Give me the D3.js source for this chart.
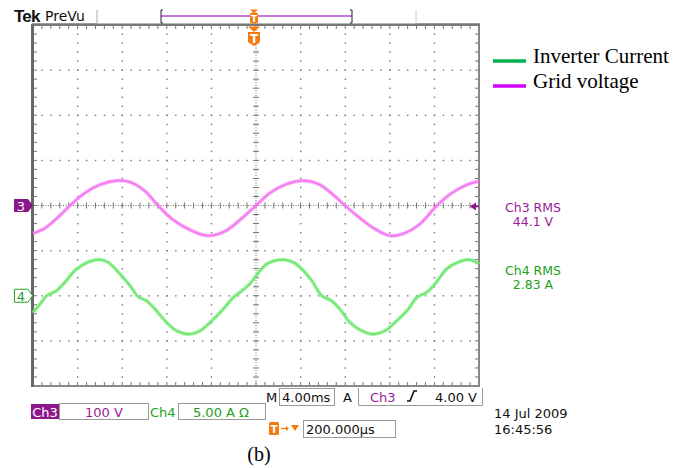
<!DOCTYPE html>
<html><head><meta charset="utf-8">
<script src="https://cdn.jsdelivr.net/npm/d3@7"></script>
<style>body{margin:0;background:#fff}svg{display:block}</style>
</head><body>
<svg id="c" width="682" height="468"></svg>
<script>
// ---- data ----
const timeV = [-20.0,-18.92,-17.76,-16.68,-15.34,-13.99,-12.47,-11.30,-9.96,-8.79,-7.53,-5.92,-4.31,-2.78,-1.44,0,1.26,2.60,4.22,5.56,6.82,7.98,9.33,10.67,12.02,13.36,14.71,16.23,17.58,18.92,20.0];
const gridVoltage = [-62,-50,-26,0,28,46,55,52,32,0,-30,-54,-67,-57,-32,0,28,46,55,48,26,0,-28,-52,-67,-61,-41,0,28,46,54];
const timeI = [-20.0,-19.37,-18.77,-17.88,-17.28,-16.08,-14.89,-13.99,-13.25,-12.20,-11.30,-10.56,-9.81,-9.06,-8.01,-7.11,-5.92,-5.02,-3.97,-2.93,-2.04,-1.44,-0.54,0.36,0.96,2.45,3.35,4.10,5.00,5.89,6.79,7.53,8.43,9.48,10.52,11.57,12.62,13.66,14.41,15.31,16.05,17.10,18.30,19.19,20.0];
const inverterCurrent = [-1.86,-0.92,0,0.56,1.30,2.97,3.81,4.0,3.70,2.41,1.11,-0.11,-0.56,-1.48,-2.97,-3.89,-4.26,-3.89,-2.78,-1.48,-0.19,0.37,1.33,2.78,3.52,4.0,3.70,2.97,1.67,0,-0.56,-1.48,-2.97,-3.89,-4.26,-3.89,-2.78,-1.48,-0.19,0.37,1.30,2.97,3.81,4.0,3.52];
const legendLabels = ["Inverter Current","Grid voltage"];
const rmsLabels = [["Ch3 RMS","44.1 V"],["Ch4 RMS","2.83 A"]];
const xDomain = [-20,20];       // ms, 4 ms/div
const vDomain = [-400,400];     // V, 100 V/div
const iDomain = [-10,30];       // A, 5 A/div, ground 2 div below centre

const svg = d3.select("#c");
const X0=33, X1=479, Y0=25, Y1=386;
const x = d3.scaleLinear().domain(xDomain).range([X0,X1]);
const yV = d3.scaleLinear().domain(vDomain).range([Y1,Y0]);
const yI = d3.scaleLinear().domain(iDomain).range([Y1,Y0]);
const GRID="#747474";
const sans="'DejaVu Sans', sans-serif";
const serif="'Liberation Serif','Times New Roman', serif";
const PURPLE="#9a1a9a", GREENT="#22a022", ORANGE="#f47a10";

svg.append("rect").attr("width",682).attr("height",468).attr("fill","#fff");

// ---- graticule ----
const g = svg.append("g");
const majX = d3.range(-20,20.01,4), majV = d3.range(-400,400.1,100);
const minX = d3.range(-20,20.01,0.8), minV = d3.range(-400,400.1,20);
majX.filter(t=>t!==0 && Math.abs(t)!==20).forEach(t=>{
  minV.forEach(v=>g.append("rect").attr("x",x(t)-0.6).attr("y",yV(v)-0.6).attr("width",1.4).attr("height",1.4).attr("fill",GRID));
});
majV.filter(v=>v!==0 && Math.abs(v)!==400).forEach(v=>{
  minX.forEach(t=>g.append("rect").attr("x",x(t)-0.6).attr("y",yV(v)-0.6).attr("width",1.4).attr("height",1.4).attr("fill",GRID));
});
g.append("line").attr("x1",X0).attr("x2",X1).attr("y1",yV(0)).attr("y2",yV(0)).attr("stroke",GRID).attr("stroke-width",1).attr("stroke-dasharray","1 1.5");
g.append("line").attr("x1",x(0)).attr("x2",x(0)).attr("y1",Y0).attr("y2",Y1).attr("stroke",GRID).attr("stroke-width",1).attr("stroke-dasharray","1 1.5");
minX.forEach(t=>g.append("line").attr("x1",x(t)).attr("x2",x(t)).attr("y1",yV(0)-3).attr("y2",yV(0)+3).attr("stroke",GRID).attr("stroke-width",1));
minV.forEach(v=>g.append("line").attr("x1",x(0)-3).attr("x2",x(0)+3).attr("y1",yV(v)).attr("y2",yV(v)).attr("stroke",GRID).attr("stroke-width",1));
minX.forEach(t=>{
  g.append("line").attr("x1",x(t)).attr("x2",x(t)).attr("y1",Y0).attr("y2",Y0+4).attr("stroke",GRID);
  g.append("line").attr("x1",x(t)).attr("x2",x(t)).attr("y1",Y1).attr("y2",Y1-4).attr("stroke",GRID);
});
minV.forEach(v=>{
  g.append("line").attr("x1",X0).attr("x2",X0+4).attr("y1",yV(v)).attr("y2",yV(v)).attr("stroke",GRID);
  g.append("line").attr("x1",X1).attr("x2",X1-4).attr("y1",yV(v)).attr("y2",yV(v)).attr("stroke",GRID);
});
g.append("rect").attr("x",X0).attr("y",Y0).attr("width",X1-X0).attr("height",Y1-Y0).attr("fill","none").attr("stroke","#888").attr("stroke-width",2);
g.append("line").attr("x1",X0-0.5).attr("x2",X0-0.5).attr("y1",Y0-1).attr("y2",Y1+1).attr("stroke","#666").attr("stroke-width",3);
g.append("line").attr("x1",X0-1).attr("x2",X1+1).attr("y1",Y0-0.5).attr("y2",Y0-0.5).attr("stroke","#777").attr("stroke-width",2.5);

// ---- traces ----
const lineV = d3.line().x((d,i)=>x(timeV[i])).y(d=>yV(d)).curve(d3.curveCatmullRom.alpha(0.5));
const lineI = d3.line().x((d,i)=>x(timeI[i])).y(d=>yI(d)).curve(d3.curveCatmullRom.alpha(0.5));
[[lineV(gridVoltage),"#f57cf2"],[lineI(inverterCurrent),"#74e874"]].forEach(([p,c])=>{
  svg.append("path").attr("d",p).attr("fill","none").attr("stroke",c).attr("stroke-width",4).attr("stroke-opacity",0.45);
  svg.append("path").attr("d",p).attr("fill","none").attr("stroke",c).attr("stroke-width",2.2);
});

// ---- channel markers ----
const cy3 = yV(0), cy4 = yI(0);
svg.append("path").attr("d",`M14,${cy3-6.5}H28L33,${cy3}L28,${cy3+6.5}H14Z`).attr("fill","#8c168c");
svg.append("text").attr("x",21).attr("y",cy3+5).attr("text-anchor","middle").attr("fill","#fff").attr("font-family",sans).attr("font-size",13).text("3");
svg.append("path").attr("d",`M14.5,${cy4-6.5}H28L32.5,${cy4}L28,${cy4+6.5}H14.5Z`).attr("fill","#fff").attr("stroke","#2aa02a").attr("stroke-width",1);
svg.append("text").attr("x",21).attr("y",cy4+5).attr("text-anchor","middle").attr("fill","#2aa02a").attr("font-family",sans).attr("font-size",13).text("4");
svg.append("path").attr("d",`M470,${cy3+1}L476,${cy3-3}V${cy3+5}Z`).attr("fill","#8c168c");
svg.append("line").attr("x1",476).attr("x2",479).attr("y1",cy3+1).attr("y2",cy3+1).attr("stroke","#8c168c").attr("stroke-width",1.5);

// ---- header ----
svg.append("text").attr("x",14).attr("y",22).attr("font-family","'Liberation Sans',Arial,sans-serif").attr("font-weight","bold").attr("font-size",17).attr("letter-spacing",-0.8).attr("fill","#111").text("Tek");
svg.append("text").attr("x",45).attr("y",21).attr("font-family",sans).attr("font-size",14).attr("fill","#111").text("PreVu");
svg.append("line").attr("x1",97).attr("x2",97).attr("y1",10).attr("y2",23.5).attr("stroke","#aaa");
svg.append("line").attr("x1",97).attr("x2",416).attr("y1",23.5).attr("y2",23.5).attr("stroke","#b8b8b8");
svg.append("line").attr("x1",416).attr("x2",416).attr("y1",10).attr("y2",23.5).attr("stroke","#c8c8c8");
svg.append("line").attr("x1",161).attr("x2",352).attr("y1",16).attr("y2",16).attr("stroke","#c878d8").attr("stroke-width",2);
svg.append("path").attr("d","M163,10H161V23H163").attr("fill","none").attr("stroke","#222").attr("stroke-width",1);
svg.append("path").attr("d","M350,10H352V23H350").attr("fill","none").attr("stroke","#222").attr("stroke-width",1);
const tx = x(0)-2;
svg.append("path").attr("d",`M${tx-4},9.5H${tx+4}L${tx},13Z`).attr("fill",ORANGE);
svg.append("rect").attr("x",tx-4).attr("y",12.5).attr("width",8).attr("height",11).attr("rx",2).attr("fill",ORANGE);
svg.append("text").attr("x",tx).attr("y",21.5).attr("text-anchor","middle").attr("font-family",sans).attr("font-size",9).attr("font-weight","bold").attr("fill","#fff").text("T");
svg.append("path").attr("d",`M${tx-6},26.5H${tx+6}L${tx},32Z`).attr("fill",ORANGE);
svg.append("path").attr("d",`M${tx-6},32H${tx+6}V42L${tx},46L${tx-6},42Z`).attr("fill",ORANGE);
svg.append("text").attr("x",tx).attr("y",43).attr("text-anchor","middle").attr("font-family",sans).attr("font-size",12).attr("font-weight","bold").attr("fill","#fff").text("T");

// ---- legend ----
const legCol = ["#00b050","#d400ff"];
legendLabels.forEach((l,i)=>{
  const yy = 61 + i*25;
  svg.append("line").attr("x1",493).attr("x2",526).attr("y1",yy).attr("y2",yy).attr("stroke",legCol[i]).attr("stroke-width",3.5);
  svg.append("text").attr("x",533).attr("y",yy+2).attr("font-family",serif).attr("font-size",21).attr("fill","#000").text(l);
});

// ---- RMS readouts ----
const rmsCol=[PURPLE,GREENT], rmsY=[212,275];
rmsLabels.forEach((r,i)=>{
  r.forEach((s,j)=>svg.append("text").attr("x",533).attr("y",rmsY[i]+j*13.5).attr("text-anchor","middle").attr("font-family",sans).attr("font-size",12.5).attr("fill",rmsCol[i]).text(s));
});

// ---- bottom status ----
function box(x0,y0,w,h){svg.append("rect").attr("x",x0+0.5).attr("y",y0+0.5).attr("width",w).attr("height",h).attr("fill","#fff").attr("stroke","#9a9a9a");}
function txt(s,xx,yy,c,anchor){return svg.append("text").attr("x",xx).attr("y",yy).attr("font-family",sans).attr("font-size",13).attr("fill",c||"#111").attr("text-anchor",anchor||"start").text(s);}
txt("M",266,402);
box(279,388,55,17); txt("4.00ms",282,402);
txt("A",343,402);
svg.append("path").attr("d","M358.5,388V405.5H482.5V388").attr("fill","none").attr("stroke","#9a9a9a");
txt("Ch3",370,402,PURPLE);
svg.append("path").attr("d","M407,401H410L414,391H417").attr("fill","none").attr("stroke","#111").attr("stroke-width",1.6);
txt("4.00 V",477,402,"#111","end");
svg.append("rect").attr("x",31).attr("y",404).attr("width",28).attr("height",15).attr("fill","#8c168c");
txt("Ch3",45,416.5,"#fff","middle");
box(59,403,89,16); txt("100 V",104,416.5,PURPLE,"middle");
txt("Ch4",150,416.5,GREENT);
box(178,403,87,16); txt("5.00 A Ω",221,416.5,GREENT,"middle");
txt("14 Jul   2009",494,418);
txt("16:45:56",494,434);
svg.append("rect").attr("x",269).attr("y",422).attr("width",10).attr("height",13).attr("rx",1.5).attr("fill",ORANGE);
svg.append("text").attr("x",274).attr("y",433).attr("text-anchor","middle").attr("font-family",sans).attr("font-size",10.5).attr("font-weight","bold").attr("fill","#fff").text("T");
svg.append("path").attr("d","M281,428.5H288").attr("stroke",ORANGE).attr("stroke-width",1.4);
svg.append("path").attr("d","M286,426L289,428.5L286,431Z").attr("fill",ORANGE);
svg.append("path").attr("d","M291,425H299L295,431Z").attr("fill",ORANGE);
box(303,420,92,17); txt("200.000µs",306,434);
svg.append("text").attr("x",259).attr("y",461).attr("text-anchor","middle").attr("font-family",serif).attr("font-size",20).attr("fill","#000").text("(b)");
</script>
</body></html>
